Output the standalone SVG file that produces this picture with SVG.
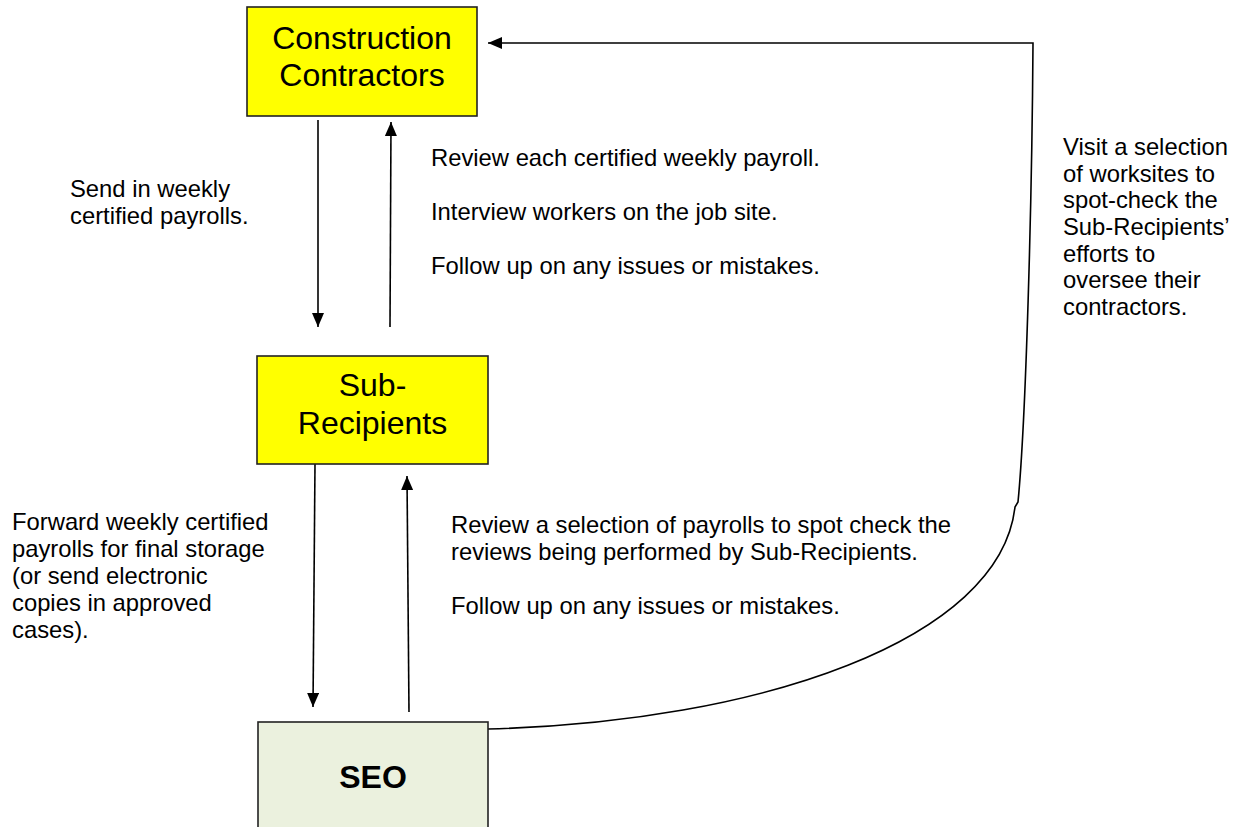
<svg xmlns="http://www.w3.org/2000/svg" width="1233" height="827" viewBox="0 0 1233 827">
  <defs>
    <style>
      .box { stroke: #222; stroke-width: 1.6; }
      .yellow { fill: #ffff00; }
      .green { fill: #ebf1de; }
      .node-label { font-family: "Liberation Sans", Arial, sans-serif; font-size: 32px; fill: #000; text-anchor: middle; }
      .bold { font-weight: bold; }
      .note { font-family: "Liberation Sans", Arial, sans-serif; font-size: 23.8px; fill: #000; }
      .conn { fill: none; stroke: #000; stroke-width: 1.6; }
    </style>
    <marker id="arrow" markerUnits="userSpaceOnUse" markerWidth="14" markerHeight="12" viewBox="0 0 14 12" refX="14" refY="6" orient="auto">
      <path d="M0,0 L14,6 L0,12 z" fill="#000"/>
    </marker>
  </defs>

  <rect width="1233" height="827" fill="#fff"/>

  <!-- connectors -->
  <g id="connectors">
    <line class="conn" x1="318" y1="120" x2="318" y2="327" marker-end="url(#arrow)"/>
    <line class="conn" x1="390" y1="327" x2="391" y2="122" marker-end="url(#arrow)"/>
    <line class="conn" x1="315" y1="464" x2="313" y2="707" marker-end="url(#arrow)"/>
    <line class="conn" x1="409" y1="712" x2="407" y2="476" marker-end="url(#arrow)"/>
    <path class="conn" d="M488,729 C760,722 1000,640 1015,507 L1018,502 C1026,420 1032,200 1033,43 L488,43" marker-end="url(#arrow)"/>
  </g>

  <!-- nodes -->
  <g id="construction-contractors">
    <rect class="box yellow" x="247" y="7" width="230" height="109"/>
    <text class="node-label" x="362" y="49">Construction</text>
    <text class="node-label" x="362" y="86">Contractors</text>
  </g>

  <g id="sub-recipients">
    <rect class="box yellow" x="257" y="356" width="231" height="108"/>
    <text class="node-label" x="372.5" y="396">Sub-</text>
    <text class="node-label" x="372.5" y="434">Recipients</text>
  </g>

  <g id="seo">
    <rect class="box green" x="258" y="722" width="230" height="120"/>
    <text class="node-label bold" x="373" y="788">SEO</text>
  </g>

  <!-- notes -->
  <g id="notes">
    <text class="note" x="70" y="197">Send in weekly</text>
    <text class="note" x="70" y="224">certified payrolls.</text>

    <text class="note" x="431" y="166">Review each certified weekly payroll.</text>
    <text class="note" x="431" y="220">Interview workers on the job site.</text>
    <text class="note" x="431" y="274">Follow up on any issues or mistakes.</text>

    <text class="note" x="1063" y="155">Visit a selection</text>
    <text class="note" x="1063" y="182">of worksites to</text>
    <text class="note" x="1063" y="208">spot-check the</text>
    <text class="note" x="1063" y="235">Sub-Recipients’</text>
    <text class="note" x="1063" y="262">efforts to</text>
    <text class="note" x="1063" y="288">oversee their</text>
    <text class="note" x="1063" y="315">contractors.</text>

    <text class="note" x="12" y="530">Forward weekly certified</text>
    <text class="note" x="12" y="557">payrolls for final storage</text>
    <text class="note" x="12" y="584">(or send electronic</text>
    <text class="note" x="12" y="611">copies in approved</text>
    <text class="note" x="12" y="638">cases).</text>

    <text class="note" x="451" y="533">Review a selection of payrolls to spot check the</text>
    <text class="note" x="451" y="560">reviews being performed by Sub-Recipients.</text>
    <text class="note" x="451" y="614">Follow up on any issues or mistakes.</text>
  </g>
</svg>
